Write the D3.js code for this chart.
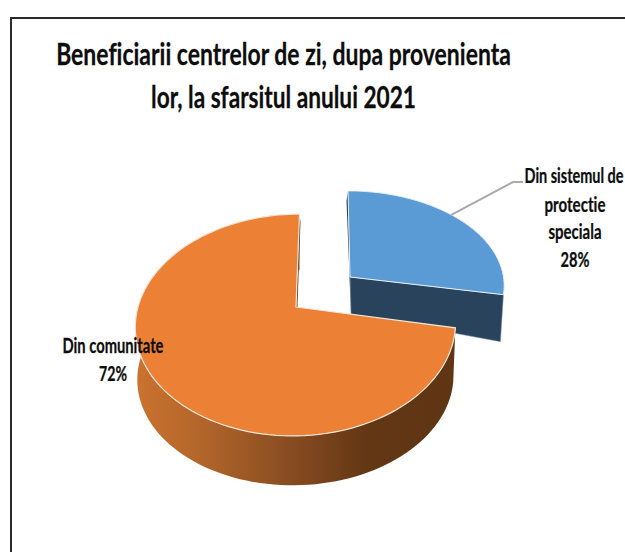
<!DOCTYPE html>
<html><head><meta charset="utf-8">
<script src="https://cdn.jsdelivr.net/npm/d3@7"></script>
<style>html,body{margin:0;padding:0;background:#fff;overflow:hidden}svg{display:block}
text{font-family:Lato,"Open Sans",sans-serif;font-weight:700;fill:#0d0d0d;stroke:#0d0d0d;stroke-width:.25px;font-variant-ligatures:none}</style>
</head><body><svg id="c" width="625" height="552"></svg>
<script>
const categories = ["Din sistemul de protectie speciala", "Din comunitate"];
const values = [28, 72];
const percentLabels = ["28%", "72%"];
const titleLines = ["Beneficiarii centrelor de zi, dupa provenienta", "lor, la sfarsitul anului 2021"];

const svg = d3.select("#c");
const defs = svg.append("defs");
const grad = defs.append("linearGradient").attr("id","wall").attr("gradientUnits","userSpaceOnUse")
  .attr("x1",136).attr("x2",456).attr("y1",0).attr("y2",0);
[[0,"#cb722e"],[.2,"#b3662b"],[.5,"#854a20"],[.72,"#633714"],[1,"#5f3514"]]
  .forEach(([o,c])=>grad.append("stop").attr("offset",o).attr("stop-color",c));

// frame
svg.append("path").attr("d","M625,18H11V552").attr("fill","none").attr("stroke","#2a2a2a").attr("stroke-width",2);

const pie = d3.pie().value(d=>d).sort(null);
const arcs = pie(values);

// perspective projection of a point on the unit pie circle
function projector(g){
  return (theta, r=1)=>{
    const u=r*Math.sin(theta), v=-r*Math.cos(theta), w=1-g.c*v;
    return [g.cx+g.A*u/w+g.skew*v, g.cy+g.a*v/w+(g.dy||0)];
  };
}
const geoms = [
  {cx:350,cy:277,A:153.5,a:93,c:.08,skew:2},
  {cx:296,cy:307,A:158,a:108,c:.162,skew:-3.5}
];
const line = d3.line();
const arcPts=(p,a0,a1)=>d3.range(0,121).map(i=>p(a0+(a1-a0)*i/120));

// blue slice: wall then top
const bp=projector(geoms[0]);
const ba=arcs[0];
const bEnd=bp(ba.endAngle), bEndLow=[bEnd[0]-3,bEnd[1]+47];
const bTop=bp(0), bC=bp(0,0);
svg.append("path").attr("fill","#2a435c").attr("stroke","#8fa3b5").attr("stroke-width",.5)
  .attr("d",line([bC,bEnd,bEndLow,[bC[0]+1,bC[1]+37]])+"Z");
svg.append("path").attr("fill","#2a435c").attr("d",line([bTop,bC,[bC[0]+1,bC[1]+37],[bTop[0]-1.5,bTop[1]+10]])+"Z");
svg.append("path").attr("fill","#5b9bd5").attr("stroke","#e9f0f7").attr("stroke-width",1)
  .attr("d",line([bC,...arcPts(bp,ba.startAngle,ba.endAngle)])+"Z");

// orange slice: wall then top
const op=projector(geoms[1]);
const ol=projector({...geoms[1],A:156,a:105,cy:307,dy:53});
const oa=arcs[1];
const low=arcPts(ol,oa.startAngle+.02,oa.endAngle).reverse();
svg.append("path").attr("fill","url(#wall)")
  .attr("d",line([...arcPts(op,oa.startAngle,oa.endAngle),...low])+"Z");
svg.append("path").attr("fill","#6b3c17")
  .attr("d",line([op(oa.endAngle),op(0,0),[op(0,0)[0]+1,op(0,0)[1]+12],[op(oa.endAngle)[0]+1,op(oa.endAngle)[1]+8]])+"Z");
svg.append("path").attr("fill","#ec8034").attr("stroke","#f4e6da").attr("stroke-width",1.2)
  .attr("d",line([op(0,0),...arcPts(op,oa.startAngle,oa.endAngle)])+"Z");

// leader
const mid=bp(Math.PI/4);
svg.append("path").attr("d",line([mid,[513,182],[523,182]])).attr("fill","none").attr("stroke","#a9a9a9").attr("stroke-width",2);

// text: squeezed horizontally by a transform, so the text box matches what is drawn
const T=(s,x,y,size,len)=>{
  const t=svg.append("text").attr("font-size",size).attr("text-anchor","middle").text(s);
  const k=len/t.node().getComputedTextLength();
  t.attr("transform",`translate(${x},${y}) scale(${k},1)`);
};
T(titleLines[0],283.5,65,30,455);
T(titleLines[1],283.5,108,30,265);
const w=categories[0].split(" ");
T(w.slice(0,3).join(" "),574,183,20,99);
T(w[3],575,212,20,61);
T(w[4],575,239,20,53);
T(percentLabels[0],575,267,20,29);
T(categories[1],113,353,20,101);
T(percentLabels[1],113,381,20,28);
</script></body></html>
